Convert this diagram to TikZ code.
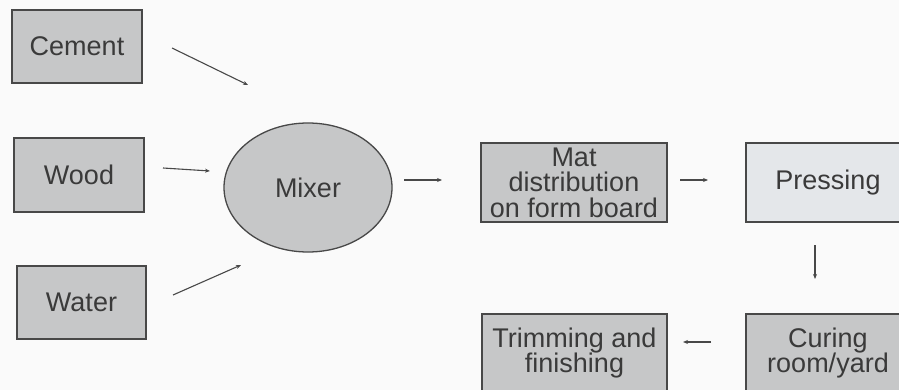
\documentclass[tikz,border=0pt]{standalone}
\usepackage{fontspec}
\setmainfont{Liberation Sans}
\usetikzlibrary{arrows.meta,shapes.geometric}
\definecolor{boxgray}{RGB}{198,199,200}
\definecolor{lightbox}{RGB}{228,231,234}
\definecolor{edge}{RGB}{72,72,72}
\definecolor{txt}{RGB}{58,58,58}
\definecolor{bg}{RGB}{250,250,250}
\tikzset{
  procbox/.style={draw=edge, line width=1.3pt, fill=boxgray, rectangle, inner sep=0pt,
    text=txt, align=center, font=\fontsize{27}{25.5}\selectfont},
  arr/.style={draw=edge, line width=1.1pt, -{Stealth[length=5pt,width=4pt]}},
}
\begin{document}
\begin{tikzpicture}[x=1pt,y=-1pt]
\fill[bg] (0,0) rectangle (899,390);
\useasboundingbox (0,0) rectangle (899,390);
\node[procbox, minimum width=130pt, minimum height=73pt] (cement) at (77,46.5) {Cement};
\node[procbox, minimum width=130pt, minimum height=74pt] (wood) at (79,175) {Wood};
\node[procbox, minimum width=129pt, minimum height=73pt] (water) at (81.5,302.5) {Water};
\node[procbox, ellipse, minimum width=168pt, minimum height=129pt] (mixer) at (308,187.5) {Mixer};
\node[procbox, minimum width=186pt, minimum height=79pt] (mat) at (574,182.5) {Mat\\distribution\\on form board};
\node[procbox, fill=lightbox, minimum width=164pt, minimum height=79pt] (press) at (828,182.5) {Pressing};
\node[procbox, minimum width=164pt, minimum height=78pt] (curing) at (828,353) {Curing\\room/yard};
\node[procbox, minimum width=185pt, minimum height=78pt] (trim) at (574.5,353) {Trimming and\\finishing};
% connector end points
\coordinate (cemA) at (172,48);
\coordinate (cemB) at (248,85);
\coordinate (woodA) at (163,168);
\coordinate (woodB) at (210,171);
\coordinate (watA) at (173,295);
\coordinate (watB) at (241,265);
\coordinate (mixA) at (404,180);
\coordinate (mixB) at (442,180);
\coordinate (matA) at (680,180);
\coordinate (matB) at (708,180);
\coordinate (prA) at (815,245);
\coordinate (prB) at (815,279);
\coordinate (cuA) at (711,342);
\coordinate (cuB) at (683,342);
\draw[arr] (cemA) -- (cemB);
\draw[arr] (woodA) -- (woodB);
\draw[arr] (watA) -- (watB);
\draw[arr] (mixA) -- (mixB);
\draw[arr] (matA) -- (matB);
\draw[arr] (prA) -- (prB);
\draw[arr] (cuA) -- (cuB);
\end{tikzpicture}
\end{document}
